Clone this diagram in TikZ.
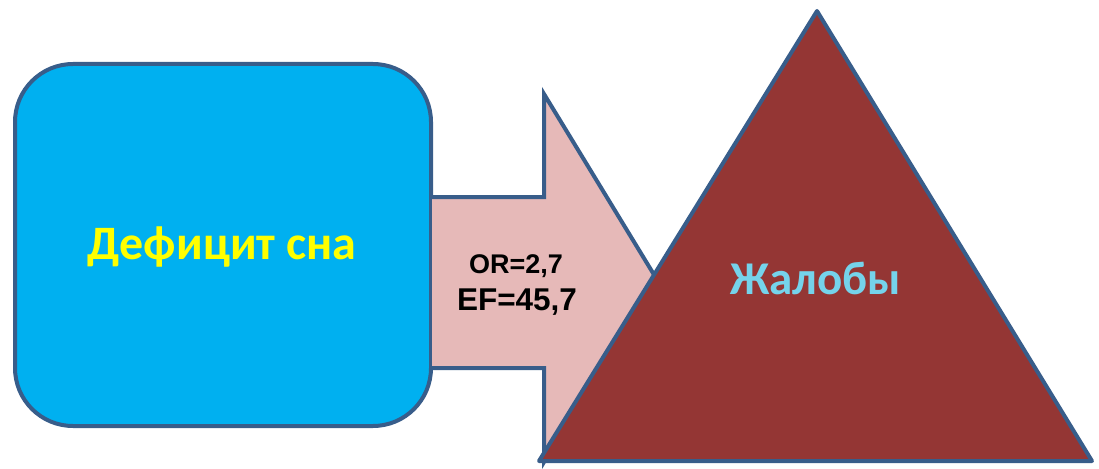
\documentclass[tikz,border=0pt]{standalone}
\usepackage{fontspec}
\newfontfamily\calib{Carlito}
\newfontfamily\arialf{Liberation Sans}
\definecolor{edgeblue}{RGB}{56,93,138}
\definecolor{boxblue}{RGB}{0,176,240}
\definecolor{arrowpink}{RGB}{230,185,184}
\definecolor{brickred}{RGB}{148,54,52}
\definecolor{textcyan}{RGB}{117,211,235}
\definecolor{textyellow}{RGB}{255,255,0}
\begin{document}
\begin{tikzpicture}[x=1pt,y=-1pt,
  shape outline/.style={draw=edgeblue,line width=4pt,line join=miter},
  label text/.style={inner sep=0pt,anchor=center}]
\useasboundingbox (0,0) rectangle (1099,468);
% cause box
\path[shape outline,fill=boxblue,rounded corners=58pt] (15,64) rectangle (431,426);
% arrow from box to triangle
\path[shape outline,fill=arrowpink] (432,197) -- (544,197) -- (544,94) -- (656,278)
  -- (544,462) -- (544,368) -- (432,368);
% outcome triangle
\path[shape outline,fill=brickred,line join=round] (817,11) -- (1092,461) -- (539,461) -- cycle;
% labels
\node[label text,font=\calib\bfseries\fontsize{48}{56}\selectfont,text=textyellow] (cause) at (222,247) {Дефицит сна};
\node[label text,font=\arialf\bfseries\fontsize{27}{32}\selectfont] (orval) at (516,266) {OR=2,7};
\node[label text,font=\arialf\bfseries\fontsize{31.5}{36}\selectfont] (efval) at (517,302) {EF=45,7};
\node[label text,font=\calib\bfseries\fontsize{47}{56}\selectfont,text=textcyan] (effect) at (816,278) {Жалобы};
\end{tikzpicture}
\end{document}
